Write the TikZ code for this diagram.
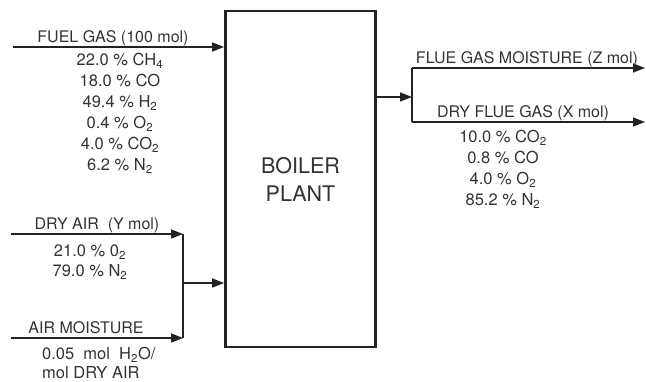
\documentclass[tikz,border=0pt]{standalone}
\usepackage{fontspec}
\setmainfont{TeX Gyre Heros}
\usepackage{xcolor}
\definecolor{colInk}{HTML}{222222}
\definecolor{colText}{HTML}{333333}
\usetikzlibrary{arrows.meta, positioning}
\tikzset{
    plantbox/.style={
        draw=colInk, line width=2.8pt,
        minimum width=150pt, minimum height=336pt,
        align=center, text=colText,
        font=\fontsize{21.5}{28}\selectfont
    },
    flowline/.style={draw=colInk, line width=1.5pt, -{Triangle[length=12pt,width=9pt]}},
    plainline/.style={draw=colInk, line width=1.5pt},
    streamlabel/.style={text=colText, inner sep=0pt, font=\fontsize{16}{18}\selectfont},
    complist/.style={text=colText, inner sep=0pt, align=center, font=\fontsize{16.5}{21}\selectfont},
}

\begin{document}
\begin{tikzpicture}[x=1pt, y=-1pt]
    \useasboundingbox (0,0) rectangle (646,381);

    \node[plantbox] (plant) at (300.5,179) {BOILER\\PLANT};

    % fuel gas
    \coordinate (fuelin) at (13,47);
    \draw[flowline] (fuelin) -- (fuelin -| plant.west);
    \node[streamlabel, anchor=base] (fuellbl) at (113,42) {FUEL GAS (100 mol)};
    \node[complist, anchor=north] (fuelmix) at (120,53)
          {22.0 \% CH\textsubscript{4}\\18.0 \% CO\\49.4 \% H\textsubscript{2}\\
           0.4 \% O\textsubscript{2}\\4.0 \% CO\textsubscript{2}\\6.2 \% N\textsubscript{2}};

    % air streams
    \coordinate (airin) at (11,234);
    \coordinate (moistin) at (11,338);
    \coordinate (airjoin) at (183,283);
    \draw[flowline] (airin) -- (airin -| airjoin);
    \draw[flowline] (moistin) -- (moistin -| airjoin);
    \draw[plainline] (airin -| airjoin) -- (moistin -| airjoin);
    \draw[flowline] (airjoin) -- (airjoin -| plant.west);

    \node[streamlabel, anchor=base] (airlbl) at (97,229) {DRY AIR\ \ (Y mol)};
    \node[complist, anchor=north, font=\fontsize{16.5}{20}\selectfont] (airmix) at (90,245)
          {21.0 \% 0\textsubscript{2}\\79.0 \% N\textsubscript{2}};
    \node[streamlabel, anchor=base] (moistlbl) at (86,333) {AIR MOISTURE};
    \node[complist, anchor=north west, align=left, font=\fontsize{16.5}{19}\selectfont] (moistmix) at (42,347)
          {0.05\ \ mol\ \ H\textsubscript{2}O/\\mol DRY AIR};

    % flue gas out
    \coordinate (fluesplit) at (412,97);
    \coordinate (wetout) at (645,68);
    \coordinate (dryout) at (645,122);
    \draw[flowline] (fluesplit -| plant.east) -- (fluesplit);
    \draw[plainline] (fluesplit |- wetout) -- (fluesplit |- dryout);
    \draw[flowline] (fluesplit |- wetout) -- (wetout);
    \draw[flowline] (fluesplit |- dryout) -- (dryout);

    \node[streamlabel, anchor=base] (wetlbl) at (527,63) {FLUE GAS MOISTURE (Z mol)};
    \node[streamlabel, anchor=base] (drylbl) at (523,117) {DRY FLUE GAS (X mol)};
    \node[complist, anchor=north] (flumix) at (503,130)
          {10.0 \% CO\textsubscript{2}\\0.8 \% CO\\4.0 \% O\textsubscript{2}\\85.2 \% N\textsubscript{2}};
\end{tikzpicture}
\end{document}
